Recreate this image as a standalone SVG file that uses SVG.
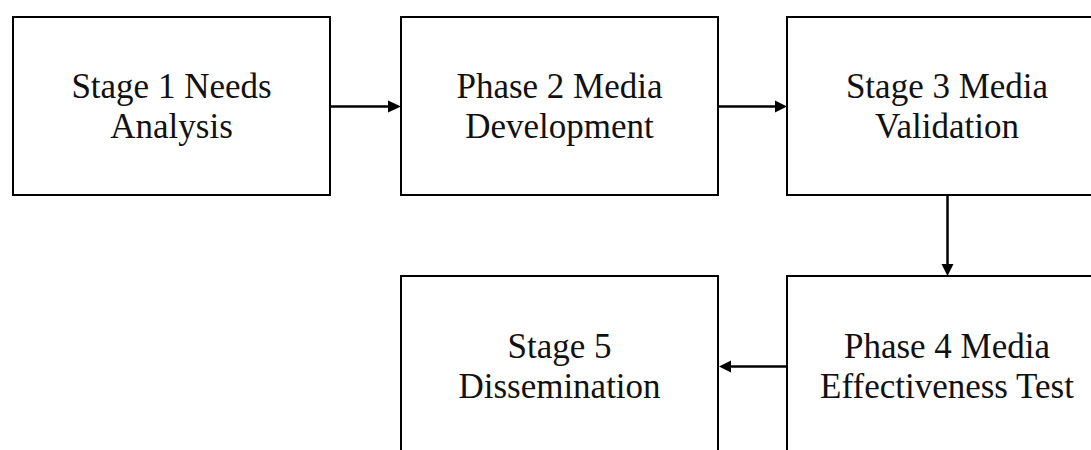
<svg xmlns="http://www.w3.org/2000/svg" width="1091" height="450" viewBox="0 0 1091 450">
<style>
.box{fill:#fff;stroke:#000;stroke-width:2}
.lbl{font-family:"Liberation Serif","Times New Roman",serif;font-size:35px;fill:#111;text-anchor:middle}
.con{stroke:#000;stroke-width:2.5;fill:none}
.head{fill:#000}
</style>
<rect width="1091" height="450" fill="#fff"/>
<g id="node1"><rect class="box" x="13" y="17" width="317" height="178"/><text class="lbl" x="171.5" y="97.5">Stage 1 Needs</text><text class="lbl" x="171.5" y="137.5">Analysis</text></g>
<g id="node2"><rect class="box" x="401" y="17" width="317" height="178"/><text class="lbl" x="559.5" y="97.5">Phase 2 Media</text><text class="lbl" x="559.5" y="137.5">Development</text></g>
<g id="node3"><rect class="box" x="787" y="17" width="320" height="178"/><text class="lbl" x="947" y="97.5">Stage 3 Media</text><text class="lbl" x="947" y="137.5">Validation</text></g>
<g id="node4"><rect class="box" x="787" y="276" width="320" height="180"/><text class="lbl" x="947" y="357.5">Phase 4 Media</text><text class="lbl" x="947" y="397.5">Effectiveness Test</text></g>
<g id="node5"><rect class="box" x="401" y="276" width="317" height="180"/><text class="lbl" x="559.5" y="357.5">Stage 5</text><text class="lbl" x="559.5" y="397.5">Dissemination</text></g>
<g id="connectors">
<line class="con" x1="331" y1="106.5" x2="389" y2="106.5"/><polygon class="head" points="388,100.5 401,106.5 388,112.5"/>
<line class="con" x1="719" y1="106.5" x2="776" y2="106.5"/><polygon class="head" points="775,100.5 787,106.5 775,112.5"/>
<line class="con" x1="947.5" y1="196" x2="947.5" y2="265"/><polygon class="head" points="941.5,264 947.5,276 953.5,264"/>
<line class="con" x1="786" y1="366.5" x2="729" y2="366.5"/><polygon class="head" points="731,360.5 719,366.5 731,372.5"/>
</g>
</svg>
